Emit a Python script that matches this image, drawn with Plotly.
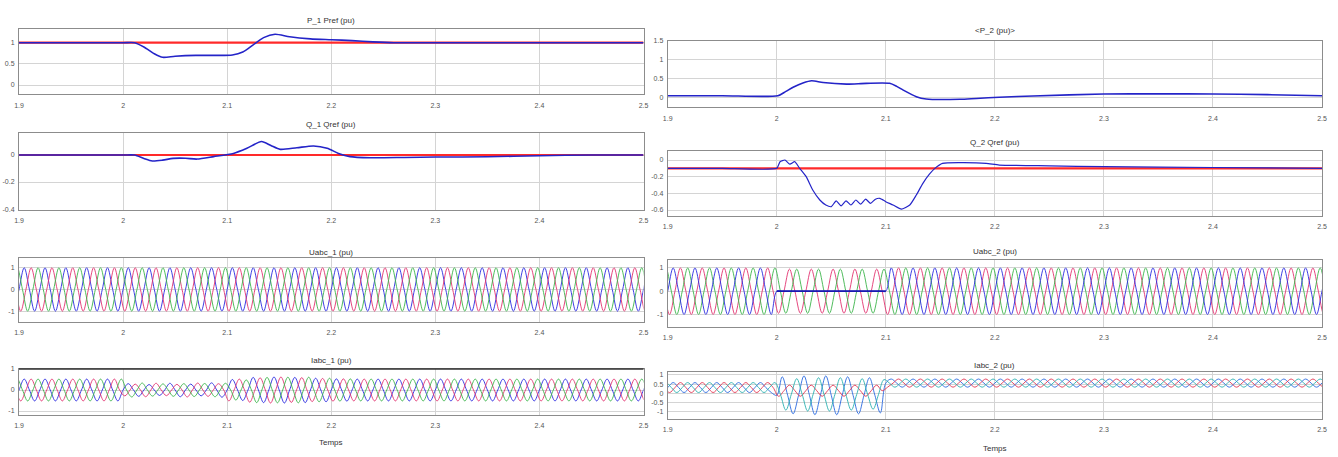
import numpy as np
import plotly.graph_objects as go

# ---------------- data ----------------
T_START, T_END = 1.9, 2.5
F_HZ = 50
X_TICKS = [1.9, 2.0, 2.1, 2.2, 2.3, 2.4, 2.5]
X_TICK_TEXT = ["1.9", "2", "2.1", "2.2", "2.3", "2.4", "2.5"]

# P_1 / Pref
P1_T = [1.9, 1.95, 2.0, 2.011, 2.02, 2.03, 2.038, 2.05, 2.07, 2.09, 2.105, 2.115, 2.125,
        2.135, 2.146, 2.16, 2.18, 2.2, 2.22, 2.24, 2.26, 2.3, 2.4, 2.5]
P1_V = [1.0, 1.0, 1.0, 1.0, 0.9, 0.74, 0.655, 0.68, 0.70, 0.70, 0.71, 0.78, 0.95,
        1.12, 1.2, 1.14, 1.09, 1.07, 1.05, 1.02, 1.0, 1.0, 1.0, 1.0]
PREF1_T = [1.9, 2.5]
PREF1_V = [1.0, 1.0]

# Q_1 / Qref
Q1_T = [1.9, 1.95, 2.0, 2.011, 2.02, 2.028, 2.038, 2.048, 2.06, 2.071, 2.087, 2.106, 2.119, 2.133,
        2.142, 2.151, 2.167, 2.183, 2.196, 2.207, 2.218, 2.2375, 2.27, 2.3, 2.35, 2.4,
        2.45, 2.5]
Q1_V = [0.0, 0.0, 0.0, 0.0, -0.025, -0.044, -0.038, -0.025, -0.024, -0.03, -0.012, 0.012, 0.05, 0.1,
        0.07, 0.042, 0.054, 0.067, 0.05, 0.012, -0.012, -0.02, -0.018, -0.015, -0.013, -0.005,
        0.0, 0.0]
QREF1_T = [1.9, 2.5]
QREF1_V = [0.0, 0.0]

# P_2
P2_T = [1.9, 1.95, 2.001, 2.008, 2.015, 2.024, 2.032, 2.0425, 2.064, 2.082, 2.1035, 2.11, 2.116,
        2.128, 2.137, 2.168, 2.183, 2.204, 2.235, 2.3, 2.35, 2.4, 2.45, 2.5]
P2_V = [0.042, 0.042, 0.042, 0.15, 0.265, 0.38, 0.44, 0.39, 0.35, 0.37, 0.37, 0.29, 0.19,
        0.016, -0.045, -0.053, -0.03, 0.0, 0.035, 0.088, 0.09, 0.088, 0.07, 0.042]

# Q_2 / Qref
Q2_T = [1.9, 1.95, 2.0, 2.003, 2.0075, 2.012, 2.0165, 2.021, 2.027, 2.033, 2.0395, 2.045, 2.05,
        2.0545, 2.059, 2.0635, 2.068, 2.0725, 2.077, 2.0815, 2.086, 2.0905, 2.0945, 2.1,
        2.1066, 2.1143, 2.122, 2.128, 2.134, 2.14, 2.145, 2.152, 2.1677, 2.192, 2.204,
        2.25, 2.3, 2.4, 2.5]
Q2_V = [-0.1, -0.1, -0.1, -0.02, 0.0, -0.05, -0.02, -0.1, -0.2, -0.36, -0.48, -0.54, -0.56,
        -0.49, -0.55, -0.49, -0.54, -0.48, -0.53, -0.47, -0.52, -0.47, -0.46, -0.5,
        -0.54, -0.59, -0.54, -0.42, -0.28, -0.17, -0.1, -0.04, -0.032, -0.04, -0.06,
        -0.07, -0.08, -0.09, -0.1]
QREF2_T = [1.9, 2.5]
QREF2_V = [-0.1, -0.1]

# three-phase waveforms: peak amplitude and centre value per 20 ms cycle (30 cycles)
UABC1_AMP_A = [1.0, 1.0, 1.0, 1.0, 1.0, 1.0, 1.0, 1.0, 1.0, 1.0, 1.0, 1.0, 1.0, 1.0, 1.0,
               1.0, 1.0, 1.0, 1.0, 1.0, 1.0, 1.0, 1.0, 1.0, 1.0, 1.0, 1.0, 1.0, 1.0, 1.0]
UABC1_AMP_B = UABC1_AMP_A
UABC1_AMP_C = UABC1_AMP_A
UABC1_OFF = [0.0] * 30

UABC2_AMP_A = [1.0, 1.0, 1.0, 1.0, 1.0, 0.0, 0.0, 0.0, 0.0, 0.0, 1.0, 1.0, 1.0, 1.0, 1.0,
               1.0, 1.0, 1.0, 1.0, 1.0, 1.0, 1.0, 1.0, 1.0, 1.0, 1.0, 1.0, 1.0, 1.0, 1.0]
UABC2_AMP_B = [1.0, 1.0, 1.0, 1.0, 1.0, 0.95, 0.95, 0.95, 0.95, 0.95, 1.0, 1.0, 1.0, 1.0, 1.0,
               1.0, 1.0, 1.0, 1.0, 1.0, 1.0, 1.0, 1.0, 1.0, 1.0, 1.0, 1.0, 1.0, 1.0, 1.0]
UABC2_AMP_C = UABC2_AMP_B
UABC2_OFF = [0.0] * 30
FAULT_T = [2.0, 2.1]          # phase-a voltage collapse on side 2

IABC1_AMP_A = [0.52, 0.52, 0.52, 0.52, 0.52, 0.30, 0.26, 0.32, 0.28, 0.34, 0.50, 0.60, 0.62, 0.60, 0.56,
               0.53, 0.52, 0.52, 0.52, 0.52, 0.52, 0.52, 0.52, 0.52, 0.52, 0.52, 0.52, 0.52, 0.52, 0.52]
IABC1_AMP_B = [0.52, 0.52, 0.52, 0.52, 0.52, 0.28, 0.32, 0.27, 0.33, 0.30, 0.52, 0.58, 0.62, 0.59, 0.55,
               0.53, 0.52, 0.52, 0.52, 0.52, 0.52, 0.52, 0.52, 0.52, 0.52, 0.52, 0.52, 0.52, 0.52, 0.52]
IABC1_AMP_C = [0.52, 0.52, 0.52, 0.52, 0.52, 0.33, 0.29, 0.30, 0.31, 0.32, 0.48, 0.60, 0.61, 0.61, 0.56,
               0.53, 0.52, 0.52, 0.52, 0.52, 0.52, 0.52, 0.52, 0.52, 0.52, 0.52, 0.52, 0.52, 0.52, 0.52]
IABC1_OFF = [0.0] * 30

IABC2_AMP_A = [0.27, 0.27, 0.27, 0.27, 0.27, 1.0, 1.05, 1.05, 1.0, 0.95, 0.22, 0.22, 0.22, 0.22, 0.22,
               0.22, 0.22, 0.22, 0.22, 0.22, 0.22, 0.22, 0.22, 0.22, 0.22, 0.22, 0.22, 0.22, 0.22, 0.22]
IABC2_AMP_B = [0.27, 0.27, 0.27, 0.27, 0.27, 0.30, 0.30, 0.30, 0.30, 0.30, 0.22, 0.22, 0.22, 0.22, 0.22,
               0.22, 0.22, 0.22, 0.22, 0.22, 0.22, 0.22, 0.22, 0.22, 0.22, 0.22, 0.22, 0.22, 0.22, 0.22]
IABC2_AMP_C = [0.27, 0.27, 0.27, 0.27, 0.27, 0.85, 0.90, 0.90, 0.85, 0.80, 0.22, 0.22, 0.22, 0.22, 0.22,
               0.22, 0.22, 0.22, 0.22, 0.22, 0.22, 0.22, 0.22, 0.22, 0.22, 0.22, 0.22, 0.22, 0.22, 0.22]
IABC2_OFF_A = [0.32, 0.32, 0.32, 0.32, 0.32, -0.1, -0.1, -0.1, -0.1, -0.1, 0.56, 0.56, 0.56, 0.56, 0.56,
               0.56, 0.56, 0.56, 0.56, 0.56, 0.56, 0.56, 0.56, 0.56, 0.56, 0.56, 0.56, 0.56, 0.56, 0.56]
IABC2_OFF_B = [0.32, 0.32, 0.32, 0.32, 0.32, 0.15, 0.15, 0.15, 0.15, 0.15, 0.56, 0.56, 0.56, 0.56, 0.56,
               0.56, 0.56, 0.56, 0.56, 0.56, 0.56, 0.56, 0.56, 0.56, 0.56, 0.56, 0.56, 0.56, 0.56, 0.56]
IABC2_OFF_C = [0.32, 0.32, 0.32, 0.32, 0.32, -0.05, -0.05, -0.05, -0.05, -0.05, 0.56, 0.56, 0.56, 0.56, 0.56,
               0.56, 0.56, 0.56, 0.56, 0.56, 0.56, 0.56, 0.56, 0.56, 0.56, 0.56, 0.56, 0.56, 0.56, 0.56]

PHASE_LAG_DEG = [0, 120, 240]

TITLES = ["P_1 Pref (pu)", "Q_1 Qref (pu)", "Uabc_1 (pu)", "Iabc_1 (pu)",
          "&lt;P_2 (pu)&gt;", "Q_2 Qref (pu)", "Uabc_2 (pu)", "Iabc_2 (pu)"]

# ---------------- styling / layout ----------------
W, H = 1338, 457
C_SIG = "#2424c8"
C_REF = "#ff2a2a"
PHASE_COLORS = ["#2a2ae0", "#e23370", "#3cb44b"]

PANELS = [
    dict(px=(19, 643.5), py=(29.3, 94.3), yr=[-0.22, 1.317], yt=[0, 0.5, 1], ytt=["0", "0.5", "1"], ty=20),
    dict(px=(19, 643.5), py=(133, 210), yr=[-0.407, 0.163], yt=[-0.4, -0.2, 0], ytt=["-0.4", "-0.2", "0"], ty=125),
    dict(px=(19, 643.5), py=(258, 322), yr=[-1.5, 1.45], yt=[-1, 0, 1], ytt=["-1", "0", "1"], ty=252),
    dict(px=(19, 643.5), py=(369, 415), yr=[-1.19, 1.0], yt=[-1, 0, 1], ytt=["-1", "0", "1"], ty=360),
    dict(px=(667.7, 1322), py=(40.7, 107.3), yr=[-0.265, 1.5], yt=[0, 0.5, 1, 1.5], ytt=["0", "0.5", "1", "1.5"], ty=31),
    dict(px=(667.7, 1322), py=(150.7, 216), yr=[-0.672, 0.112], yt=[-0.6, -0.4, -0.2, 0], ytt=["-0.6", "-0.4", "-0.2", "0"], ty=142),
    dict(px=(667.7, 1322), py=(260, 327), yr=[-1.54, 1.34], yt=[-1, 0, 1], ytt=["-1", "0", "1"], ty=251),
    dict(px=(667.7, 1322), py=(372, 419), yr=[-1.38, 1.16], yt=[-1, -0.5, 0, 0.5, 1], ytt=["-1", "-0.5", "0", "0.5", "1"], ty=365),
]


def phase_points(amps, offs, lag_deg):
    """Spline knots at zero-crossings and peaks of each cycle, using the read amplitudes."""
    T = 1.0 / F_HZ
    q = T / 4.0
    t0 = T_START - T + (lag_deg / 360.0) * T
    pattern = [0, 1, 0, -1]
    ts, vs = [], []
    j = 0
    t = t0
    while t <= T_END + T:
        k = int(np.clip(np.floor((t - T_START + 1e-9) / T), 0, len(amps) - 1))
        ts.append(t)
        vs.append(offs[k] + amps[k] * pattern[j % 4])
        j += 1
        t = t0 + j * q
    return ts, vs


fig = go.Figure()


def add_line(panel, x, y, color, width, spline=False, smoothing=1.0):
    n = panel + 1
    fig.add_trace(go.Scatter(
        x=x, y=y, mode="lines",
        line=dict(color=color, width=width, shape="spline" if spline else "linear", smoothing=smoothing),
        xaxis="x" if n == 1 else f"x{n}", yaxis="y" if n == 1 else f"y{n}",
        showlegend=False, hoverinfo="skip"))


# P_1
add_line(0, PREF1_T, PREF1_V, C_REF, 2.2)
add_line(0, P1_T, P1_V, C_SIG, 1.6, spline=True, smoothing=0.7)
# Q_1
add_line(1, QREF1_T, QREF1_V, C_REF, 2.2)
add_line(1, Q1_T, Q1_V, C_SIG, 1.6, spline=True, smoothing=0.7)
# Uabc_1
for amps, lag, col in zip([UABC1_AMP_A, UABC1_AMP_B, UABC1_AMP_C], PHASE_LAG_DEG, PHASE_COLORS):
    tx, vy = phase_points(amps, UABC1_OFF, lag)
    add_line(2, tx, vy, col, 0.9, spline=True)
# Iabc_1
for amps, lag, col in zip([IABC1_AMP_A, IABC1_AMP_B, IABC1_AMP_C], PHASE_LAG_DEG, PHASE_COLORS):
    tx, vy = phase_points(amps, IABC1_OFF, lag)
    add_line(3, tx, vy, col, 0.9, spline=True)
# P_2
add_line(4, P2_T, P2_V, C_SIG, 1.6, spline=True, smoothing=0.7)
# Q_2
add_line(5, QREF2_T, QREF2_V, C_REF, 2.2)
add_line(5, Q2_T, Q2_V, C_SIG, 1.2, spline=True, smoothing=0.5)
# Uabc_2
for amps, lag, col in zip([UABC2_AMP_B, UABC2_AMP_C, UABC2_AMP_A],
                          [PHASE_LAG_DEG[1], PHASE_LAG_DEG[2], PHASE_LAG_DEG[0]],
                          [PHASE_COLORS[1], PHASE_COLORS[2], PHASE_COLORS[0]]):
    tx, vy = phase_points(amps, UABC2_OFF, lag)
    add_line(6, tx, vy, col, 0.9, spline=True)
# collapsed phase-a segment drawn heavier, as on the scope
ta, va = phase_points(UABC2_AMP_A, UABC2_OFF, PHASE_LAG_DEG[0])
seg = [(t, v) for t, v in zip(ta, va) if FAULT_T[0] - 1e-9 <= t <= FAULT_T[1] + 1e-9]
add_line(6, [s[0] for s in seg], [s[1] for s in seg], "#1a1ab0", 1.6)
# Iabc_2
for amps, offs, lag, col in zip([IABC2_AMP_A, IABC2_AMP_B, IABC2_AMP_C],
                                [IABC2_OFF_A, IABC2_OFF_B, IABC2_OFF_C],
                                PHASE_LAG_DEG, ["#2a6ae0", "#e23350", "#2ab0b0"]):
    tx, vy = phase_points(amps, offs, lag)
    add_line(7, tx, vy, col, 0.9, spline=True)

layout = dict(
    width=W, height=H,
    margin=dict(l=0, r=0, t=0, b=0, autoexpand=False),
    paper_bgcolor="white", plot_bgcolor="white",
    font=dict(family="Liberation Sans, Arial, sans-serif", size=8, color="#555555"),
    showlegend=False,
)
annotations = []
for i, p in enumerate(PANELS):
    n = i + 1
    xa = "xaxis" if n == 1 else f"xaxis{n}"
    ya = "yaxis" if n == 1 else f"yaxis{n}"
    xd = [p["px"][0] / W, p["px"][1] / W]
    yd = [1 - p["py"][1] / H, 1 - p["py"][0] / H]
    layout[xa] = dict(
        domain=xd, range=[T_START, T_END], anchor="y" if n == 1 else f"y{n}",
        tickvals=X_TICKS, ticktext=X_TICK_TEXT, ticks="", ticklabelstandoff=4,
        showgrid=True, gridcolor="#d4d4d4", gridwidth=1, zeroline=False,
        showline=True, linecolor="#8c8c8c", linewidth=1, mirror=True, automargin=False,
        tickfont=dict(size=7, color="#555555"))
    layout[ya] = dict(
        domain=yd, range=p["yr"], anchor="x" if n == 1 else f"x{n}",
        tickvals=p["yt"], ticktext=p["ytt"], ticks="", ticklabelstandoff=2,
        showgrid=True, gridcolor="#d4d4d4", gridwidth=1, zeroline=False,
        showline=True, linecolor="#8c8c8c", linewidth=1, mirror=True, automargin=False,
        tickfont=dict(size=7, color="#555555"))
    annotations.append(dict(
        text=TITLES[i], x=(xd[0] + xd[1]) / 2, y=1 - p["ty"] / H, xref="paper", yref="paper",
        xanchor="center", yanchor="middle", showarrow=False,
        font=dict(size=8, color="#333333")))

annotations.append(dict(text="Temps", x=((19 + 643.5) / 2) / W, y=1 - 442 / H, xref="paper", yref="paper",
                        xanchor="center", yanchor="middle", showarrow=False, font=dict(size=8, color="#333333")))
annotations.append(dict(text="Temps", x=((667.7 + 1322) / 2) / W, y=1 - 448 / H, xref="paper", yref="paper",
                        xanchor="center", yanchor="middle", showarrow=False, font=dict(size=8, color="#333333")))
layout["annotations"] = annotations

# darker top frame edge of the Iabc_1 panel, as in the scope capture
layout["shapes"] = [dict(type="line", xref="paper", yref="paper",
                         x0=19 / W, x1=643.5 / W, y0=1 - 369 / H, y1=1 - 369 / H,
                         line=dict(color="#333333", width=1.5))]

fig.update_layout(**layout)
fig.write_html("out.html",
               config={"displayModeBar": False},
               post_script="document.body.style.margin='0';document.body.style.overflow='hidden';")
